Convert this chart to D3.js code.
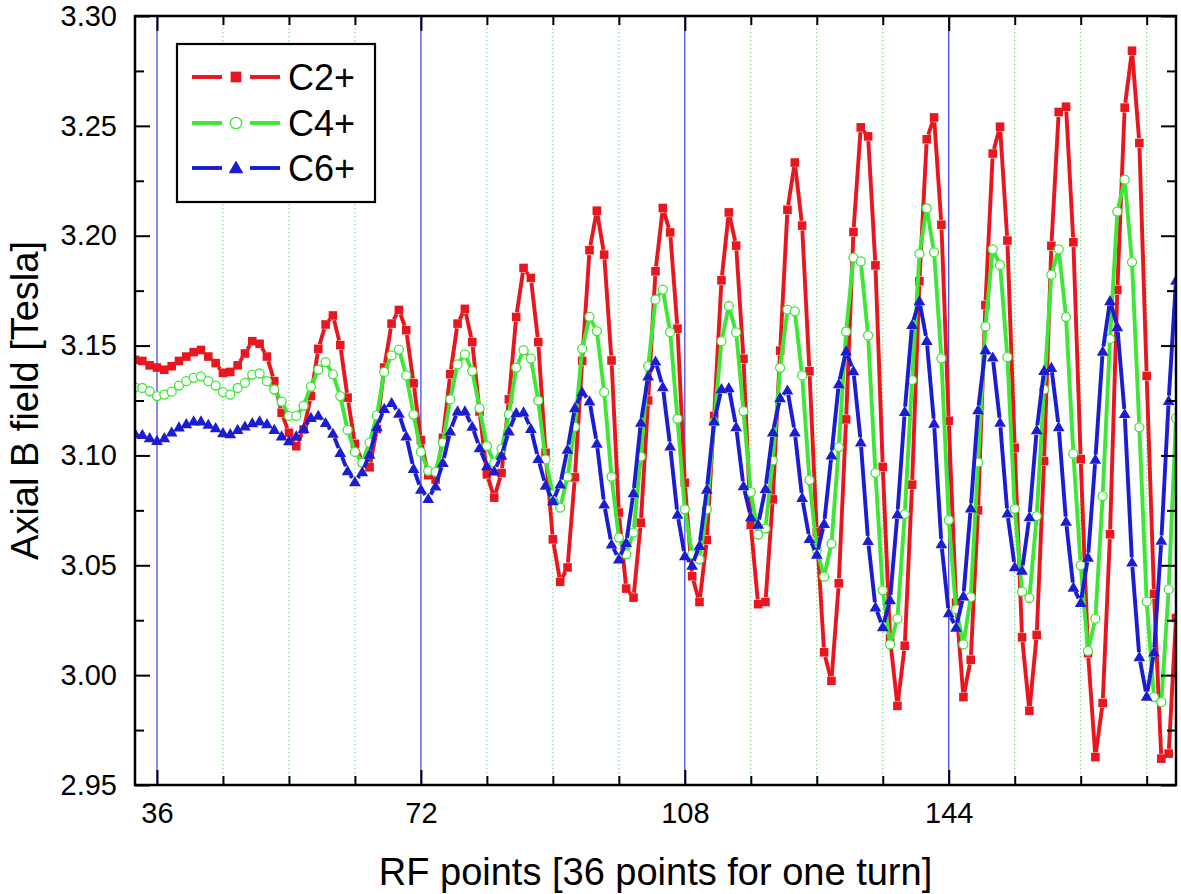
<!DOCTYPE html>
<html><head><meta charset="utf-8">
<script src="https://cdn.jsdelivr.net/npm/d3@7"></script>
<style>body{margin:0;background:#fff} svg{display:block}</style>
</head><body><svg id="c" width="1181" height="894"></svg>
<script>
const firstRFPoint = 33;
const c2Values = [
3.1435,3.143,3.141,3.140,3.139,3.1406,3.143,3.145,3.147,3.148,
3.145,3.142,3.1376,3.138,3.141,3.1464,3.152,3.1508,3.145,3.1338,
3.1194,3.1103,3.1042,3.1118,3.127,3.1485,3.1596,3.1637,3.1502,3.1263,
3.1053,3.097,3.0946,3.112,3.140,3.160,3.1662,3.157,3.1328,3.107,
3.091,3.089,3.108,3.137,3.160,3.1667,3.1516,3.120,3.0914,3.0808,
3.092,3.1255,3.163,3.1853,3.1808,3.1516,3.1012,3.0618,3.0425,3.049,
3.090,3.143,3.1934,3.2114,3.1914,3.1432,3.074,3.0394,3.0353,3.0694,
3.125,3.1838,3.2126,3.2015,3.1577,3.0876,3.045,3.0333,3.0615,3.118,
3.1797,3.2106,3.1955,3.144,3.0683,3.0323,3.0333,3.080,3.1477,3.2118,
3.2333,3.2046,3.1383,3.065,3.0104,2.9974,3.0418,3.1164,3.2017,3.2493,
3.2452,3.1865,3.0948,3.0167,2.986,3.0134,3.0867,3.1793,3.2439,3.2538,
3.205,3.1158,3.033,2.990,3.007,3.075,3.1684,3.2374,3.2496,3.1978,
3.1035,3.0172,2.9838,3.0183,3.0974,3.1954,3.2563,3.2587,3.197,3.0983,
3.010,2.9627,2.9873,3.0641,3.1753,3.2583,3.2842,3.2422,3.1362,3.037,
2.962,2.9643,3.026];
const c4Values = [
3.131,3.1307,3.1292,3.127,3.1277,3.129,3.1318,3.1338,3.1353,3.136,
3.1338,3.1318,3.1288,3.1277,3.1307,3.133,3.1368,3.1373,3.1338,3.130,
3.1245,3.118,3.118,3.1226,3.1313,3.139,3.1425,3.1369,3.127,3.1116,
3.1016,3.0967,3.1058,3.1182,3.138,3.1455,3.1482,3.1364,3.1186,3.1016,
3.093,3.0925,3.1058,3.1255,3.1414,3.146,3.1384,3.1215,3.1043,3.0967,
3.103,3.1187,3.140,3.1479,3.1441,3.125,3.0982,3.0823,3.0762,3.0903,
3.113,3.1485,3.1631,3.1566,3.1288,3.0903,3.0626,3.055,3.0649,3.0995,
3.1406,3.1709,3.1755,3.1561,3.1167,3.0755,3.055,3.0527,3.0755,3.115,
3.152,3.168,3.156,3.1202,3.0833,3.064,3.0667,3.0977,3.1399,3.1664,
3.1656,3.1364,3.0888,3.057,3.0448,3.0598,3.1038,3.1564,3.190,3.1883,
3.1546,3.0921,3.0386,3.014,3.0257,3.0733,3.1343,3.1918,3.2125,3.1924,
3.1442,3.0706,3.03,3.014,3.0355,3.0968,3.1587,3.1938,3.1867,3.1447,
3.0757,3.038,3.0351,3.0724,3.130,3.1822,3.1938,3.163,3.1008,3.05,
3.011,3.0257,3.0815,3.153,3.211,3.2255,3.188,3.1128,3.0335,2.99,
2.9877,3.039,3.117];
const c6Values = [
3.110,3.1095,3.108,3.1068,3.108,3.1106,3.1129,3.1144,3.1156,3.1156,
3.1141,3.1126,3.1103,3.1098,3.1118,3.1133,3.1148,3.1156,3.1144,3.1118,
3.1088,3.1066,3.1088,3.1122,3.1172,3.1182,3.1149,3.110,3.1013,3.093,
3.088,3.0925,3.1005,3.113,3.1213,3.124,3.1191,3.1088,3.094,3.0846,
3.0803,3.086,3.0967,3.1111,3.1202,3.1202,3.1132,3.1035,3.0952,3.0929,
3.100,3.1111,3.1194,3.1197,3.1122,3.0985,3.0864,3.0793,3.0869,3.1028,
3.1217,3.1288,3.1247,3.1055,3.0778,3.0596,3.0528,3.0603,3.083,3.115,
3.1361,3.1429,3.1312,3.1042,3.0732,3.0543,3.050,3.059,3.0846,3.1156,
3.1303,3.1308,3.113,3.0861,3.072,3.0686,3.0849,3.1106,3.1262,3.1297,
3.1106,3.0808,3.0621,3.055,3.069,3.1002,3.1326,3.1475,3.1385,3.1061,
3.0612,3.031,3.022,3.0343,3.0733,3.120,3.1595,3.1703,3.1523,3.1146,
3.0598,3.0283,3.0217,3.036,3.076,3.1207,3.1481,3.1447,3.115,3.0737,
3.0493,3.0477,3.072,3.1116,3.1386,3.140,3.113,3.070,3.040,3.033,
3.0536,3.0982,3.1474,3.1704,3.1585,3.119,3.0514,3.0083,2.9904,3.0105,
3.0614,3.125,3.1797];
const seriesNames = ["C2+","C4+","C6+"];
const xMajorTicks = [36,72,108,144];
const xMinorTicks = [45,54,63,81,90,99,117,126,135,153,162,171];
const yMajorTicks = [2.95,3.00,3.05,3.10,3.15,3.20,3.25,3.30];
const yMinorTicks = [2.975,3.025,3.075,3.125,3.175,3.225,3.275];
const xLabel = "RF points [36 points for one turn]";
const yLabel = "Axial B field [Tesla]";

const FONT = "'Liberation Sans', Arial, Helvetica, sans-serif";
const L = 135, R = 1176, T = 16, B = 785;
const svg = d3.select("#c");
svg.append("rect").attr("width",1181).attr("height",894).attr("fill","#fff");
const x = d3.scaleLinear().domain([33,175]).range([L,R]);
const y = d3.scaleLinear().domain([2.95,3.30]).range([B,T]);

// grid lines
const grid = svg.append("g");
grid.selectAll("line.minor").data(xMinorTicks).join("line")
  .attr("x1",d=>x(d)).attr("x2",d=>x(d)).attr("y1",T).attr("y2",B)
  .attr("stroke","#7fcf7f").attr("stroke-width",1).attr("stroke-dasharray","1.5,2.5");
grid.selectAll("line.major").data(xMajorTicks).join("line")
  .attr("x1",d=>x(d)).attr("x2",d=>x(d)).attr("y1",T).attr("y2",B)
  .attr("stroke","#2a2ad0").attr("stroke-width",1.1);

// data
svg.append("clipPath").attr("id","clip").append("rect")
  .attr("x",L).attr("y",T).attr("width",R-L).attr("height",B-T);
const plot = svg.append("g").attr("clip-path","url(#clip)");

const series = [
  {name:seriesNames[0], vals:c2Values, color:"#e8161e", type:"square"},
  {name:seriesNames[1], vals:c4Values, color:"#3ee636", type:"circle"},
  {name:seriesNames[2], vals:c6Values, color:"#1c1cd2", type:"triangle"}
];

function drawMarker(g, type, color, cx, cy, scale){
  scale = scale || 1;
  if(type==="square"){
    const s = 8.6*scale;
    g.append("rect").attr("x",cx-s/2).attr("y",cy-s/2).attr("width",s).attr("height",s)
      .attr("fill",color);
  } else if(type==="circle"){
    g.append("circle").attr("cx",cx).attr("cy",cy).attr("r",4.5*scale)
      .attr("fill","#fff").attr("stroke",color).attr("stroke-width",1.3);
  } else {
    g.append("path").attr("d",d3.symbol(d3.symbolTriangle, 60*scale*scale)())
      .attr("transform",`translate(${cx},${cy+1})`).attr("fill",color);
  }
}

const gap = 4.8;
series.forEach(s=>{
  const g = plot.append("g");
  const pts = s.vals.map((v,i)=>[x(firstRFPoint+i), y(v)]);
  for(let i=0;i<pts.length-1;i++){
    const [x1,y1]=pts[i],[x2,y2]=pts[i+1];
    const dx=x2-x1, dy=y2-y1, len=Math.hypot(dx,dy);
    if(len<=2*gap) continue;
    const ux=dx/len, uy=dy/len;
    g.append("line").attr("x1",x1+ux*gap).attr("y1",y1+uy*gap)
      .attr("x2",x2-ux*gap).attr("y2",y2-uy*gap)
      .attr("stroke",s.color).attr("stroke-width",3.9).attr("stroke-linecap","butt");
  }
  pts.forEach(p=>drawMarker(g,s.type,s.color,p[0],p[1]));
});

// axes
function styleAxis(g, fs){
  g.select(".domain").remove();
  g.selectAll(".tick line").attr("stroke","#000").attr("stroke-width",2);
  g.selectAll(".tick text").attr("fill","#000").style("font-family",FONT).style("font-size",fs+"px");
}
const fsTick = 29;
svg.append("g").attr("transform",`translate(0,${B})`)
  .call(d3.axisBottom(x).tickValues(xMajorTicks).tickSize(-15).tickPadding(17).tickFormat(d3.format("d")))
  .call(g=>styleAxis(g,fsTick));
svg.append("g").attr("transform",`translate(0,${B})`)
  .call(d3.axisBottom(x).tickValues(xMinorTicks).tickSize(-9).tickFormat(""))
  .call(g=>styleAxis(g,fsTick));
svg.append("g").attr("transform",`translate(0,${T})`)
  .call(d3.axisTop(x).tickValues(xMajorTicks).tickSize(-15).tickFormat(""))
  .call(g=>styleAxis(g,fsTick));
svg.append("g").attr("transform",`translate(0,${T})`)
  .call(d3.axisTop(x).tickValues(xMinorTicks).tickSize(-9).tickFormat(""))
  .call(g=>styleAxis(g,fsTick));
svg.append("g").attr("transform",`translate(${L},0)`)
  .call(d3.axisLeft(y).tickValues(yMajorTicks).tickSize(-15).tickPadding(18).tickFormat(d3.format(".2f")))
  .call(g=>styleAxis(g,fsTick));
svg.append("g").attr("transform",`translate(${L},0)`)
  .call(d3.axisLeft(y).tickValues(yMinorTicks).tickSize(-9).tickFormat(""))
  .call(g=>styleAxis(g,fsTick));
svg.append("g").attr("transform",`translate(${R},0)`)
  .call(d3.axisRight(y).tickValues(yMajorTicks).tickSize(-15).tickFormat(""))
  .call(g=>styleAxis(g,fsTick));
svg.append("g").attr("transform",`translate(${R},0)`)
  .call(d3.axisRight(y).tickValues(yMinorTicks).tickSize(-9).tickFormat(""))
  .call(g=>styleAxis(g,fsTick));

// frame
svg.append("rect").attr("x",L).attr("y",T).attr("width",R-L).attr("height",B-T)
  .attr("fill","none").attr("stroke","#000").attr("stroke-width",2.5);

// titles
svg.append("text").attr("x",(L+R)/2).attr("y",885).attr("text-anchor","middle")
  .style("font-family",FONT).style("font-size","38px").text(xLabel);
svg.append("text").attr("transform",`translate(38,${(T+B)/2}) rotate(-90)`).attr("text-anchor","middle")
  .style("font-family",FONT).style("font-size","38px").text(yLabel);

// legend
const lg = svg.append("g");
lg.append("rect").attr("x",177).attr("y",44).attr("width",198).attr("height",158)
  .attr("fill","#fff").attr("stroke","#000").attr("stroke-width",2.2);
const rowY = [77,123,168];
series.forEach((s,i)=>{
  const yy = rowY[i];
  lg.append("line").attr("x1",192).attr("x2",222).attr("y1",yy).attr("y2",yy)
    .attr("stroke",s.color).attr("stroke-width",3.9);
  lg.append("line").attr("x1",250).attr("x2",280).attr("y1",yy).attr("y2",yy)
    .attr("stroke",s.color).attr("stroke-width",3.9);
  drawMarker(lg,s.type,s.color,236,yy,1.25);
  lg.append("text").attr("x",288).attr("y",yy+13)
    .style("font-family",FONT).style("font-size","36px").text(s.name);
});
</script></body></html>
